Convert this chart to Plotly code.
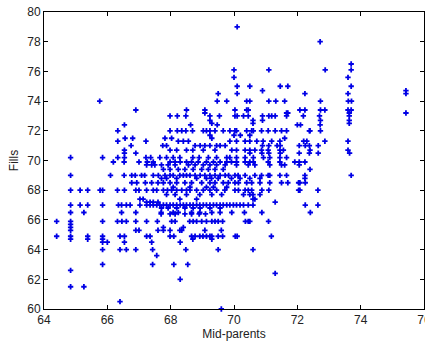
import plotly.graph_objects as go

# Child heights ("Fills") levels and the mid-parent values read at each level
mp_79_0 = [70.1]
mp_78_0 = [72.72]
mp_76_5 = [73.7]
mp_76_1 = [70.0, 71.1, 72.88, 73.7]
mp_75_6 = [70.0, 73.6]
mp_75_0 = [70.1, 70.5, 71.46, 71.7, 73.7]
mp_74_7 = [70.9, 75.43]
mp_74_5 = [69.5, 70.1, 72.24, 73.6, 75.43]
mp_74_0 = [65.76, 69.47, 69.77, 70.4, 70.5, 71.1, 71.32, 71.6, 72.73, 73.61, 73.71]
mp_73_4 = [66.9, 68.5, 69.08, 70.03, 70.4, 70.45, 72.08, 72.24, 72.73, 72.87, 73.6, 73.7]
mp_73_2 = [69.08, 71.66, 71.7, 73.64, 75.43]
mp_73_0 = [67.98, 68.21, 68.48, 69.24, 69.54, 70.03, 70.1, 70.3, 70.45, 70.9, 71.1,
           71.19, 71.3, 71.66, 72.19, 72.7, 73.64]
mp_72_7 = [69.24, 70.6, 70.9, 72.73, 73.64]
mp_72_5 = [69.3, 70.6, 73.64]
mp_72_4 = [66.54, 68.63, 69.47, 72.0, 72.1, 72.72]
mp_72_0 = [66.33, 67.98, 68.21, 68.35, 68.48, 68.69, 69.03, 69.13, 69.24, 69.4, 69.66,
           69.87, 70.03, 70.08, 70.4, 70.56, 70.61, 70.87, 71.08, 71.3, 71.5, 71.66,
           72.38, 72.4, 72.73]
mp_71_7 = [69.24, 70.0, 70.2, 70.5]
mp_71_5 = [66.56, 66.8, 67.82, 68.03, 69.3, 71.6]
mp_71_3 = [66.33, 67.22, 68.24, 68.4, 68.56, 69.87, 70.08, 70.35, 70.5, 70.72, 70.92,
           71.19, 71.45, 72.2, 72.3, 72.87, 73.6]
mp_71_0 = [66.75, 67.75, 67.87, 68.77, 68.93, 69.08, 69.24, 69.45, 69.56, 69.72, 70.9,
           71.1, 71.36, 71.46, 72.06, 72.25, 72.38, 72.66]
mp_70_7 = [66.54, 67.98, 68.19, 68.5, 68.7, 69.03, 69.4, 69.93, 70.08, 70.35, 70.5,
           70.66, 70.87, 71.08, 71.45, 71.56, 72.4, 73.6]
mp_70_5 = [66.54, 66.9, 70.5, 70.88, 71.1, 71.46, 72.06, 72.38, 72.66, 73.65]
mp_70_2 = [64.84, 65.85, 66.33, 66.54, 67.22, 67.37, 67.66, 67.87, 68.08, 68.29, 68.7,
           68.9, 69.19, 69.45, 69.77, 69.87, 70.08, 70.35, 70.61, 70.93, 71.13, 71.45,
           71.66]
mp_69_9 = [66.19, 66.53, 67.0, 67.26, 67.45, 67.98, 68.14, 68.3, 68.5, 68.66, 68.87,
           69.13, 69.35, 69.56, 69.77, 69.92, 70.08, 70.35, 70.5, 70.61, 71.08, 71.45,
           71.92, 72.06, 72.24]
mp_69_7 = [67.24, 67.4, 67.5, 67.71, 67.92, 68.14, 68.56, 68.77, 69.03, 69.24, 69.45,
           69.72, 70.08, 70.45, 70.66, 71.13, 71.5, 71.6, 72.06]
mp_69_4 = [67.77, 67.98, 68.24, 68.45, 68.71, 68.98, 69.19, 69.4, 69.66, 72.4]
mp_69_0 = [64.84, 66.1, 66.53, 66.77, 66.88, 67.08, 67.18, 67.45, 67.61, 67.82, 67.98,
           68.08, 68.29, 68.4, 68.5, 68.61, 68.77, 68.93, 69.08, 69.24, 69.4, 69.56,
           69.72, 69.83, 70.03, 70.13, 70.35, 70.66, 70.87, 71.08, 71.13, 71.45, 71.66,
           72.24, 73.7]
mp_68_8 = [67.71, 67.87, 68.19, 68.82, 69.13, 69.29, 69.5, 69.92, 70.19, 70.5, 70.82,
           72.24]
mp_68_5 = [66.77, 66.93, 67.2, 67.4, 67.6, 67.77, 67.98, 68.19, 68.45, 68.66, 68.98,
           69.24, 69.4, 69.66, 69.82, 70.03, 70.14, 70.4, 70.56, 70.82, 71.13, 71.5,
           71.7, 72.04, 72.08, 72.25]
mp_68_2 = [68.08, 68.61, 69.13, 69.35, 69.77]
mp_68_0 = [64.84, 65.14, 65.38, 65.77, 65.85, 66.32, 66.54, 66.9, 67.0, 67.24, 67.45,
           67.56, 67.77, 67.9, 68.03, 68.19, 68.35, 68.5, 68.61, 68.82, 69.03, 69.24,
           69.45, 69.71, 70.03, 70.14, 70.35, 70.45, 70.56, 70.88, 71.1, 72.04, 72.08,
           72.65]
mp_67_7 = [67.87, 68.14, 68.5, 68.92, 69.3, 69.61, 70.3, 70.5, 70.6, 70.82]
mp_67_4 = [67.03, 67.13, 68.29, 68.82, 70.6, 70.66]
mp_67_2 = [67.24, 67.35, 67.45, 67.6, 71.3]
mp_67_0 = [64.84, 65.14, 65.38, 65.85, 66.35, 66.45, 66.6, 66.72, 67.03, 67.24, 67.35,
           67.45, 67.56, 67.66, 67.77, 67.87, 67.98, 68.08, 68.19, 68.3, 68.4, 68.5,
           68.61, 68.71, 68.82, 68.92, 69.03, 69.13, 69.24, 69.35, 69.45, 69.56, 69.66,
           69.77, 69.87, 69.98, 70.08, 70.19, 70.3, 70.45, 70.6, 72.25, 72.65]
mp_66_8 = [67.71, 67.92, 68.19, 68.45, 68.71, 68.93, 69.24, 69.56]
mp_66_5 = [64.84, 65.26, 66.45, 66.9, 67.7, 68.08, 68.24, 68.66, 68.92, 69.3, 69.56,
           69.93, 70.33, 70.88, 72.41]
mp_66_4 = [67.7, 67.98, 68.14, 68.45, 68.66, 68.9, 69.1]
mp_65_9 = [64.4, 64.84, 65.85, 66.32, 66.46, 66.6, 66.9, 67.24, 67.58, 68.03, 68.14,
           68.6, 68.71, 68.82, 68.98, 69.13, 69.3, 69.4, 69.5, 69.64, 70.36, 70.45,
           70.5, 71.09]
mp_65_7 = [64.84]
mp_65_5 = [64.84, 67.77, 68.4]
mp_65_3 = [64.84, 66.9, 67.0, 67.6, 67.77, 67.98, 68.29, 68.35, 69.08, 69.6]
mp_64_9 = [64.4, 64.84, 65.38, 65.85, 66.4, 66.54, 67.24, 67.35, 67.98, 68.1, 68.66,
           68.77, 68.92, 69.02, 69.13, 69.24, 69.3, 69.5, 69.64, 70.04, 70.1, 71.18]
mp_64_7 = [64.84, 65.38, 65.85, 68.7, 69.3]
mp_64_5 = [65.85, 66.0, 66.54, 67.4, 68.3]
mp_64_0 = [65.85, 66.4, 66.6, 66.9, 67.43, 68.48, 69.5, 70.6]
mp_63_6 = [67.56]
mp_63_0 = [65.85, 67.43, 68.1, 68.54]
mp_62_6 = [64.84]
mp_62_4 = [71.3]
mp_62_0 = [68.3]
mp_61_5 = [64.84, 65.26]
mp_60_5 = [66.4]
mp_60_0 = [69.6]

fills_levels = [79.0, 78.0, 76.5, 76.1, 75.6, 75.0, 74.7, 74.5, 74.0, 73.4, 73.2, 73.0,
                72.7, 72.5, 72.4, 72.0, 71.7, 71.5, 71.3, 71.0, 70.7, 70.5, 70.2, 69.9,
                69.7, 69.4, 69.0, 68.8, 68.5, 68.2, 68.0, 67.7, 67.4, 67.2, 67.0, 66.8,
                66.5, 66.4, 65.9, 65.7, 65.5, 65.3, 64.9, 64.7, 64.5, 64.0, 63.6, 63.0,
                62.6, 62.4, 62.0, 61.5, 60.5, 60.0]
mid_parent_rows = [mp_79_0, mp_78_0, mp_76_5, mp_76_1, mp_75_6, mp_75_0, mp_74_7, mp_74_5,
                   mp_74_0, mp_73_4, mp_73_2, mp_73_0, mp_72_7, mp_72_5, mp_72_4, mp_72_0,
                   mp_71_7, mp_71_5, mp_71_3, mp_71_0, mp_70_7, mp_70_5, mp_70_2, mp_69_9,
                   mp_69_7, mp_69_4, mp_69_0, mp_68_8, mp_68_5, mp_68_2, mp_68_0, mp_67_7,
                   mp_67_4, mp_67_2, mp_67_0, mp_66_8, mp_66_5, mp_66_4, mp_65_9, mp_65_7,
                   mp_65_5, mp_65_3, mp_64_9, mp_64_7, mp_64_5, mp_64_0, mp_63_6, mp_63_0,
                   mp_62_6, mp_62_4, mp_62_0, mp_61_5, mp_60_5, mp_60_0]

x_ticks = [64, 66, 68, 70, 72, 74, 76]
y_ticks = [60, 62, 64, 66, 68, 70, 72, 74, 76, 78, 80]

xs, ys = [], []
for level, row in zip(fills_levels, mid_parent_rows):
    for v in row:
        xs.append(v)
        ys.append(level)

font = dict(family="Liberation Sans, Arial, sans-serif", size=12, color="#222222")

fig = go.Figure(go.Scatter(
    x=xs, y=ys, mode="markers", cliponaxis=False,
    marker=dict(symbol="cross", size=4.5, color="#0000e6", line=dict(width=0)),
))

axis_common = dict(showline=True, linecolor="black", linewidth=1, mirror="ticks",
                   ticks="inside", ticklen=4, tickcolor="black", showgrid=False,
                   zeroline=False, tickfont=font, automargin=False,
                   ticklabeloverflow="allow")

fig.update_xaxes(range=[64, 76], tickvals=x_ticks, ticktext=[str(t) for t in x_ticks],
                 title=dict(text="Mid-parents", font=font, standoff=2), **axis_common)
fig.update_yaxes(range=[60, 80], tickvals=y_ticks, ticktext=[str(t) for t in y_ticks],
                 title=dict(text="Fills", font=font, standoff=6), **axis_common)

fig.update_layout(width=425, height=343, margin=dict(l=44, r=1, t=12, b=34),
                  plot_bgcolor="white", paper_bgcolor="white", showlegend=False,
                  font=font)

# remove the default page margin so the figure sits at the window's top-left corner
fig.write_html("out.html", config={"displayModeBar": False},
               post_script="document.body.style.margin='0';document.body.style.overflow='hidden';")
